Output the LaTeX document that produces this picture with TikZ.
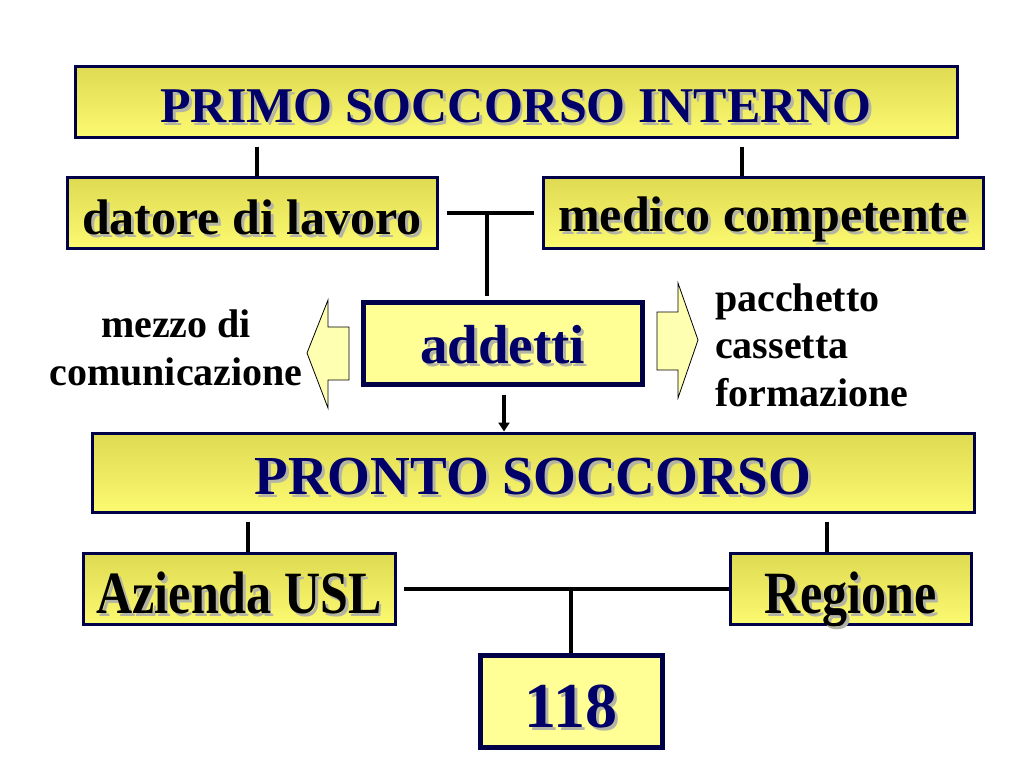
\documentclass[tikz,border=0pt]{standalone}
\usepackage{fontspec}
\usepackage{graphicx}
\setmainfont{Liberation Serif}
\usetikzlibrary{positioning,arrows.meta}
\definecolor{boxline}{RGB}{0,0,72}
\definecolor{navytext}{RGB}{0,0,104}
\definecolor{topyel}{RGB}{222,218,82}
\definecolor{botyel}{RGB}{252,250,112}
\definecolor{flatyel}{RGB}{255,255,150}
\definecolor{arrowyel}{RGB}{255,255,178}
\definecolor{shadowgray}{RGB}{180,180,165}
\newcommand{\shadowed}[1]{\rlap{\hspace{3pt}\raisebox{-3pt}{\textcolor{shadowgray}{#1}}}#1}
\newcommand{\tall}[1]{\scalebox{1}[1.2]{#1}}
\tikzset{
    every node/.style={inner sep=0pt},
    shadebox/.style={draw=boxline, line width=3pt, top color=topyel, bottom color=botyel, align=center, text depth=0pt},
    flatbox/.style={draw=boxline, line width=5pt, fill=flatyel, align=center, text depth=0pt},
    conn/.style={line width=4pt},
    arrow/.style={conn, -{Triangle[length=9pt,width=11pt]}},
    blockarrow/.style={draw=black, line width=0.8pt, fill=arrowyel, line join=miter},
    note/.style={font=\fontsize{40}{47.5}\selectfont\bfseries},
}
\begin{document}
\begin{tikzpicture}[x=1pt,y=-1pt]
% font sizes of the boxes
\def\boxfont{\fontsize{50}{60}\selectfont\bfseries}
\def\midfont{\fontsize{55}{66}\selectfont\bfseries}
\def\numfont{\fontsize{64}{76}\selectfont\bfseries}
\useasboundingbox (0,0) rectangle (1024,768);

% first level
\node[shadebox, minimum width=882pt, minimum height=71pt, text height=41pt, font=\boxfont, text=navytext] (primo) at (516,101.5) {\shadowed{PRIMO SOCCORSO INTERNO}};
\node[shadebox, minimum width=370pt, minimum height=71pt, text height=44pt, font=\boxfont] (datore) at (252,212.5) {\shadowed{datore di lavoro}};
\node[shadebox, minimum width=440pt, minimum height=71pt, text height=37pt, font=\boxfont] (medico) at (763,212.5) {\shadowed{medico competente}};
\node[flatbox, minimum width=279pt, minimum height=82pt, text height=40pt, font=\midfont, text=navytext] (addetti) at (502.5,343) {\shadowed{addetti}};

% side notes
\node[note, align=center] (mezzo) at (176,348) {mezzo di\\comunicazione};
\node[note, align=left, anchor=west] (pacchetto) at (715,345) {pacchetto\\cassetta\\formazione};

% second level
\node[shadebox, minimum width=882pt, minimum height=79pt, text height=43pt, font=\midfont, text=navytext] (pronto) at (533,472.5) {\shadowed{PRONTO SOCCORSO}};
\node[shadebox, minimum width=312pt, minimum height=71pt, text height=49pt, font=\boxfont] (azienda) at (239,588.5) {\tall{\shadowed{Azienda USL}}};
\node[shadebox, minimum width=241pt, minimum height=71pt, text height=49pt, font=\boxfont] (regione) at (850.5,588.5) {\tall{\shadowed{Regione}}};
\node[flatbox, minimum width=182pt, minimum height=92pt, text height=52pt, font=\numfont, text=navytext] (n118) at (571,701) {\shadowed{118}};

% block arrows
\draw[blockarrow] (349,327) -- (328,327) -- (328,300) -- (307,353) -- (328,408) -- (328,380) -- (349,380) -- cycle;
\draw[blockarrow] (657,312) -- (678,312) -- (678,283) -- (698,340) -- (678,398) -- (678,370) -- (657,370) -- cycle;

% connectors
\coordinate (jtop) at (487,212.5);
\draw[conn] ([xshift=5pt,yshift=-8pt]primo.south -| datore.north) -- ([xshift=5pt]datore.north);
\draw[conn] ([xshift=-21pt,yshift=-8pt]primo.south -| medico.north) -- ([xshift=-21pt]medico.north);
\draw[conn] ([xshift=8pt]datore.east) -- ([xshift=-8pt]medico.west);
\draw[conn, shorten >=4pt] (jtop) -- (jtop |- addetti.north);
\draw[arrow] ([xshift=1.5pt,yshift=-8pt]addetti.south) -- ([xshift=1.5pt]addetti.south |- pronto.north);

\draw[conn] ([xshift=9pt,yshift=-8pt]pronto.south -| azienda.north) -- ([xshift=9pt]azienda.north);
\draw[conn] ([xshift=-23.5pt,yshift=-8pt]pronto.south -| regione.north) -- ([xshift=-23.5pt]regione.north);
\draw[conn] ([xshift=7pt]azienda.east) -- (regione.west);
\draw[conn] (n118.north |- azienda.east) -- (n118.north);
\end{tikzpicture}
\end{document}
